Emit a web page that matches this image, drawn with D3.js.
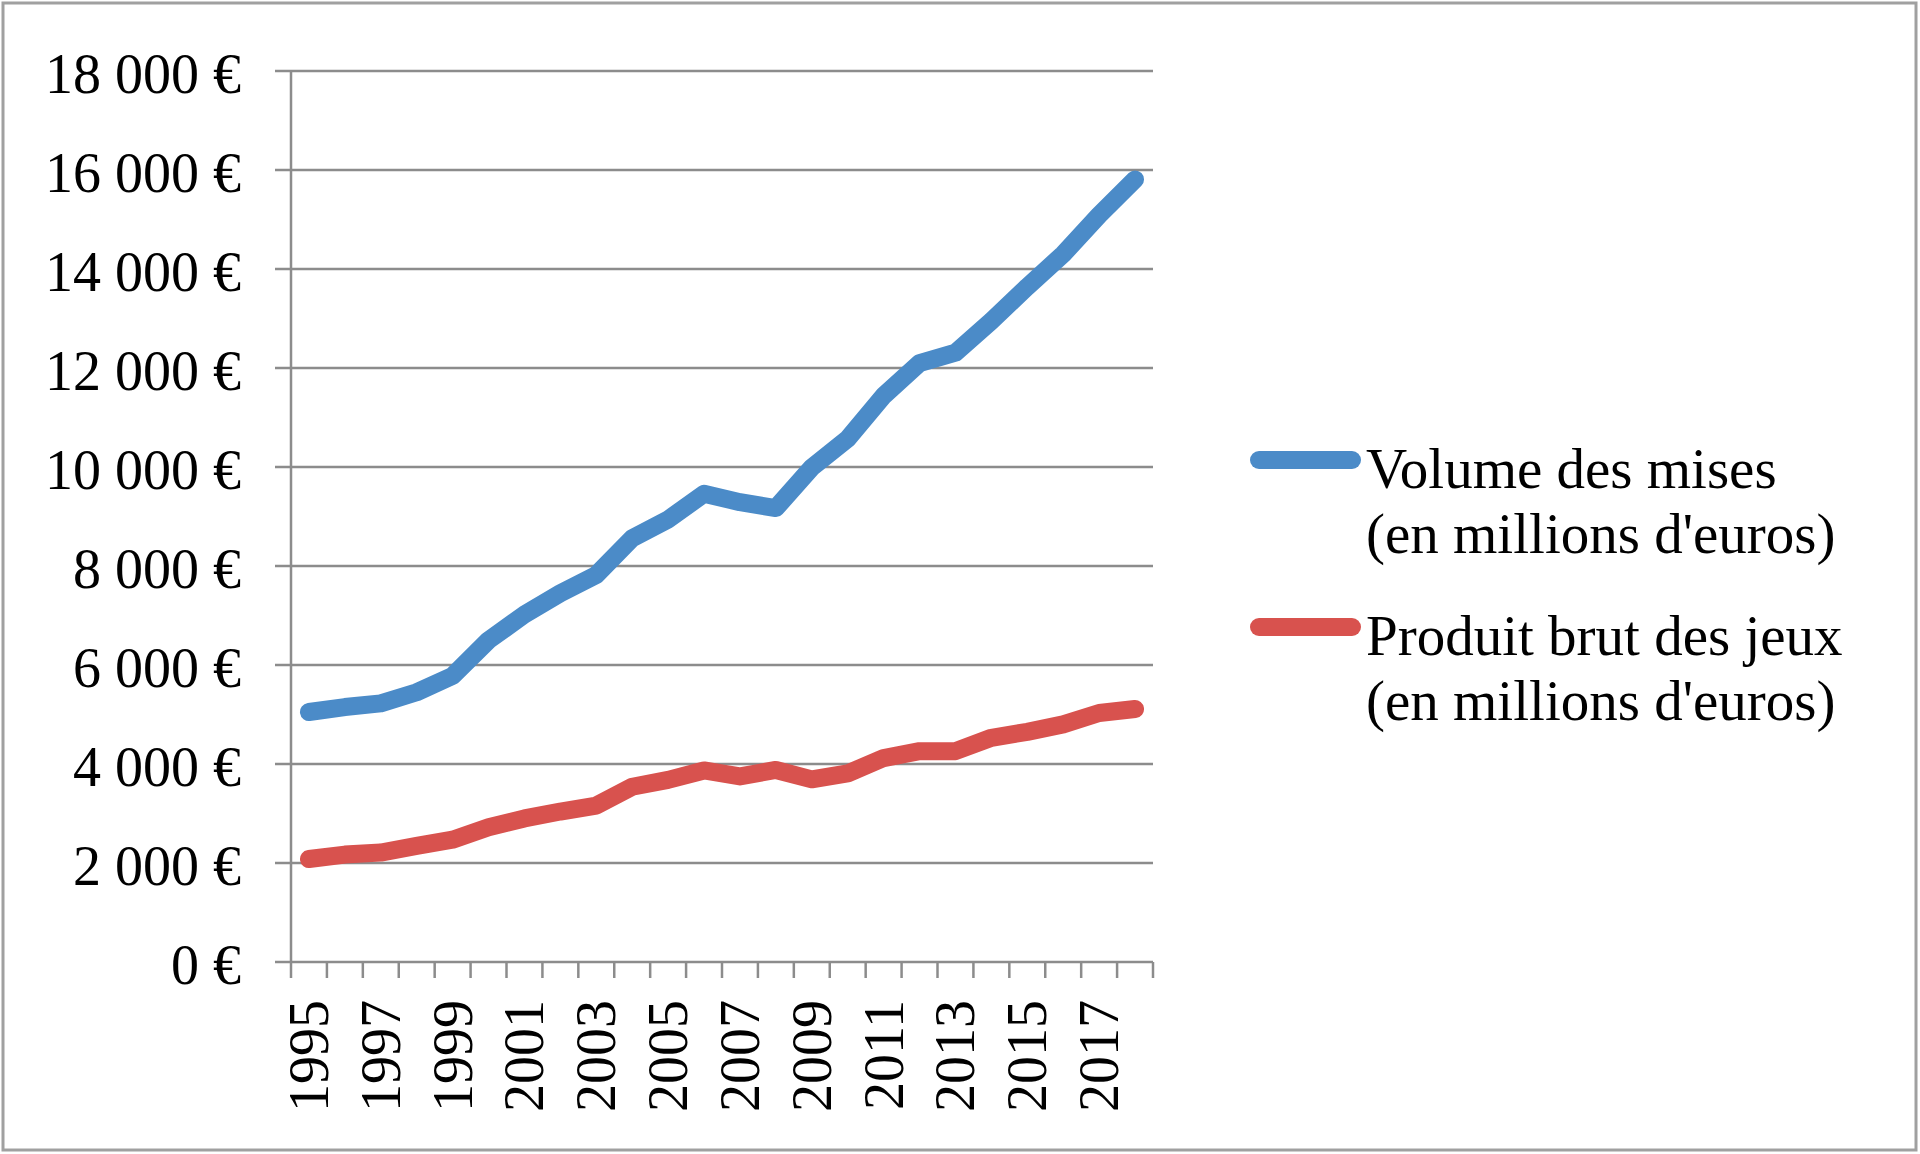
<!DOCTYPE html>
<html>
<head>
<meta charset="utf-8">
<script src="https://cdnjs.cloudflare.com/ajax/libs/d3/7.8.5/d3.min.js"></script>
<style>
html,body{margin:0;padding:0;background:#fff;}
svg{display:block;}
text{font-family:"Liberation Serif","DejaVu Serif",serif;fill:#000;}
</style>
</head>
<body>
<svg id="chart" width="1920" height="1154"></svg>
<script>
const years = d3.range(1995, 2019).map(String);
const volumeMises = [5050,5150,5225,5450,5780,6500,7020,7450,7820,8560,8940,9460,9290,9170,9990,10570,11440,12100,12310,12950,13640,14300,15090,15810];
const produitBrut = [2080,2170,2210,2345,2470,2720,2900,3040,3160,3540,3680,3870,3750,3880,3690,3810,4120,4260,4260,4530,4650,4800,5030,5110];
const seriesNames = [["Volume des mises","(en millions d'euros)"],["Produit brut des jeux","(en millions d'euros)"]];
const seriesColors = ["#4b8bc8","#d8524e"];
const yTicks = [0,2000,4000,6000,8000,10000,12000,14000,16000,18000];
const labeledYears = years.filter((y,i)=>i%2===0);

const svg = d3.select("#chart");
const fr = d3.formatLocale({decimal:",",thousands:" ",grouping:[3],currency:[""," €"]});
const fmt = v => fr.format(",")(v) + " €";

// frame
svg.append("rect").attr("x",3).attr("y",3).attr("width",1913).attr("height",1147)
  .attr("fill","#fff").attr("stroke","#a0a0a0").attr("stroke-width",3);

const x = d3.scaleBand().domain(years).range([291,1153]).padding(0);
const y = d3.scaleLinear().domain([0,18000]).range([962,71]);
const grey = "#8c8c8c";

// gridlines
svg.append("g").selectAll("line").data(yTicks).join("line")
  .attr("x1",275).attr("x2",1153)
  .attr("y1",d=>y(d)).attr("y2",d=>y(d))
  .attr("stroke",grey).attr("stroke-width",2.5);

// y axis line
svg.append("line").attr("x1",291).attr("x2",291).attr("y1",y(18000)).attr("y2",y(0)+1)
  .attr("stroke",grey).attr("stroke-width",2.5);

// x ticks at band boundaries
const bounds = years.map(d=>x(d)).concat([x.range()[1]]);
svg.append("g").selectAll("line").data(bounds).join("line")
  .attr("x1",d=>d).attr("x2",d=>d).attr("y1",y(0)).attr("y2",y(0)+16)
  .attr("stroke",grey).attr("stroke-width",2.5);

// y labels
svg.append("g").selectAll("text").data(yTicks).join("text")
  .attr("x",241).attr("y",d=>y(d)+3)
  .attr("text-anchor","end").attr("dominant-baseline","central")
  .attr("font-size",56).text(d=>fmt(d));

// x labels
svg.append("g").selectAll("text").data(labeledYears).join("text")
  .attr("transform",d=>`translate(${x(d)+x.bandwidth()/2},${y(0)+38}) rotate(-90)`)
  .attr("text-anchor","end").attr("dominant-baseline","central")
  .attr("font-size",56).text(d=>d);

// lines
const line = d3.line().x((d,i)=>x(years[i])+x.bandwidth()/2).y(d=>y(d));
[volumeMises, produitBrut].forEach((s,k)=>{
  svg.append("path").datum(s).attr("d",line)
    .attr("fill","none").attr("stroke",seriesColors[k]).attr("stroke-width",18)
    .attr("stroke-linecap","round").attr("stroke-linejoin","round");
});

// legend
const legY = [460, 627];
seriesNames.forEach((lines,k)=>{
  const g = svg.append("g");
  g.append("line").attr("x1",1259).attr("x2",1352).attr("y1",legY[k]).attr("y2",legY[k])
    .attr("stroke",seriesColors[k]).attr("stroke-width",18).attr("stroke-linecap","round");
  lines.forEach((t,j)=>{
    g.append("text").attr("x",1366).attr("y",legY[k]+8+j*65)
      .attr("dominant-baseline","central").attr("font-size",57).text(t);
  });
});
</script>
</body>
</html>
